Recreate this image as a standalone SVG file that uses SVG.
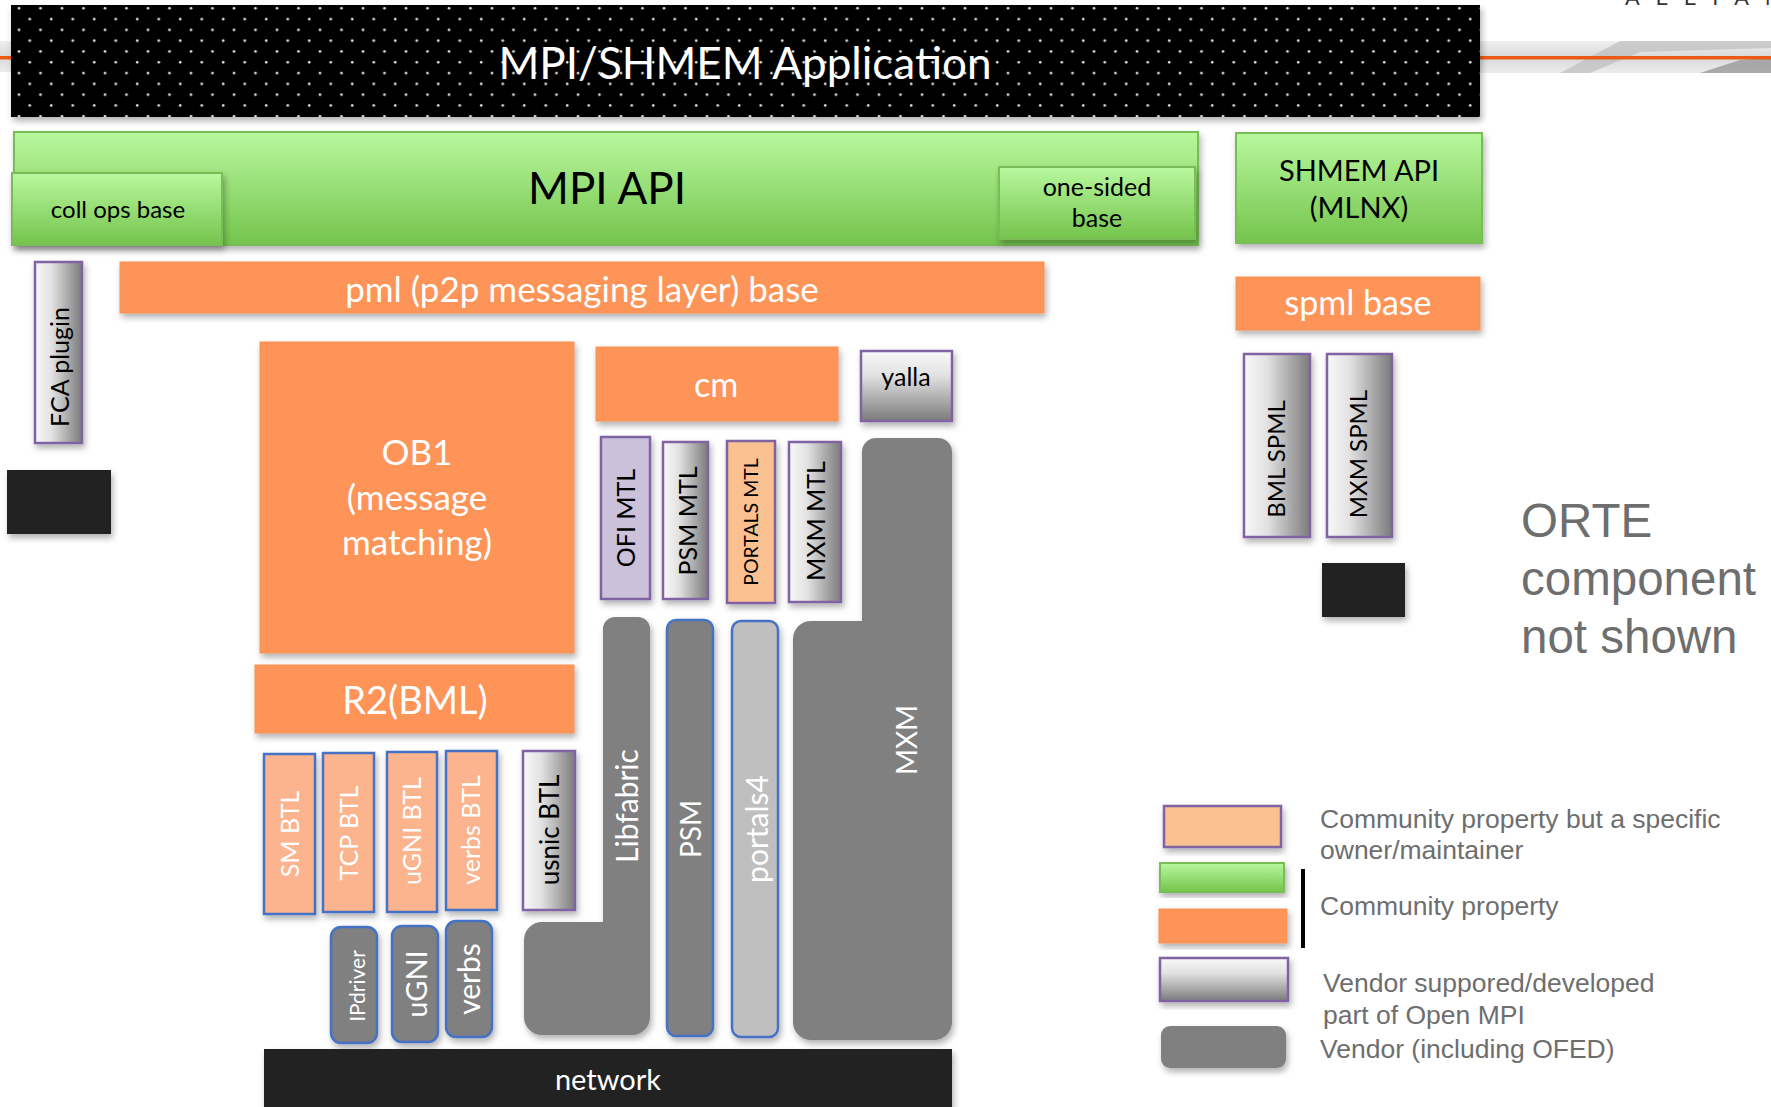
<svg xmlns="http://www.w3.org/2000/svg" width="1771" height="1107" viewBox="0 0 1771 1107">
<defs>
  <pattern id="dots" x="11" y="5" width="21.5" height="21.6" patternUnits="userSpaceOnUse">
    <circle cx="8" cy="3.3" r="1.3" fill="#e6e6e6"/>
    <circle cx="18.75" cy="14.1" r="1.3" fill="#e6e6e6"/>
  </pattern>
  <linearGradient id="green" x1="0" y1="0" x2="0" y2="1">
    <stop offset="0" stop-color="#b8f89e"/>
    <stop offset="1" stop-color="#74c44c"/>
  </linearGradient>
  <linearGradient id="vendH" x1="0" y1="0" x2="1" y2="0">
    <stop offset="0" stop-color="#f8f8f8"/>
    <stop offset="0.35" stop-color="#e2e2e2"/>
    <stop offset="1" stop-color="#7b7b7b"/>
  </linearGradient>
  <linearGradient id="vendV" x1="0" y1="0" x2="0" y2="1">
    <stop offset="0" stop-color="#f8f8f8"/>
    <stop offset="0.35" stop-color="#e2e2e2"/>
    <stop offset="1" stop-color="#7b7b7b"/>
  </linearGradient>
  <linearGradient id="swoosh" x1="0" y1="0" x2="0" y2="1">
    <stop offset="0" stop-color="#f0f0f0"/>
    <stop offset="0.5" stop-color="#d9d9d9"/>
    <stop offset="1" stop-color="#ececec"/>
  </linearGradient>
  <filter id="sh" x="-20%" y="-20%" width="140%" height="140%">
    <feDropShadow dx="2" dy="4" stdDeviation="3" flood-color="#000" flood-opacity="0.3"/>
  </filter>
  <style>
    .c { font-family: Lato, "Open Sans", sans-serif; }
    .a { font-family: "Liberation Sans", Arial, sans-serif; fill: #6e6e6e; }
    .w { fill: #ffffff; }
    .k { fill: #000000; }
    .orange { fill: #fe9459; stroke: #f5914f; stroke-width: 1; }
    .green { fill: url(#green); stroke: #79bd57; stroke-width: 2; }
    .btl { fill: #fbb48e; stroke: #4472c4; stroke-width: 2.5; }
    .vend { fill: url(#vendH); stroke: #8064a2; stroke-width: 2.5; }
    .vendv { fill: url(#vendV); stroke: #8064a2; stroke-width: 2.5; }
    .gray { fill: #808080; }
    .grayb { fill: #808080; stroke: #4472c4; stroke-width: 2.5; }
    .lgray { fill: #bfbfbf; stroke: #4472c4; stroke-width: 2.5; }
    .blk { fill: #222222; }
  </style>
</defs>
<rect width="1771" height="1107" fill="#ffffff"/>

<!-- slide decoration -->
<g id="decoration">
  <rect x="0" y="41" width="12" height="31" fill="url(#swoosh)"/>
  <rect x="1480" y="41" width="291" height="32" fill="url(#swoosh)"/>
  <polygon points="1560,73 1620,41 1771,41 1771,48 1640,52 1590,73" fill="#bdbdbd" opacity="0.7"/>
  <polygon points="1700,73 1740,60 1771,58 1771,73" fill="#9a9a9a" opacity="0.8"/>
  <rect x="0" y="56" width="12" height="3.5" fill="#ee5a14"/>
  <rect x="1480" y="56" width="291" height="3.5" fill="#ee5a14"/>
  <text x="1625" y="5" font-family="Liberation Sans, Arial, sans-serif" font-size="22" letter-spacing="16" fill="#333333">ALLIAN</text>
</g>

<g id="app">
  <rect x="11" y="5" width="1469" height="112" fill="#000000" filter="url(#sh)"/>
  <rect x="11" y="5" width="1469" height="112" fill="url(#dots)"/>
  <text class="c w" x="745" y="79" font-size="44" text-anchor="middle">MPI/SHMEM Application</text>
</g>

<g id="mpi-api">
  <rect class="green" x="14" y="132" width="1184" height="113" filter="url(#sh)"/>
  <text class="c k" x="607" y="204" font-size="44" text-anchor="middle">MPI API</text>
</g>
<g id="coll-ops-base">
  <rect class="green" x="12" y="173" width="210" height="72" filter="url(#sh)"/>
  <text class="c k" x="118" y="218" font-size="24" text-anchor="middle">coll ops base</text>
</g>
<g id="one-sided-base">
  <rect class="green" x="999" y="167" width="196" height="72" filter="url(#sh)"/>
  <text class="c k" x="1097" y="196" font-size="25" text-anchor="middle">one-sided</text>
  <text class="c k" x="1097" y="227" font-size="25" text-anchor="middle">base</text>
</g>
<g id="shmem-api">
  <rect class="green" x="1236" y="133" width="246" height="110" filter="url(#sh)"/>
  <text class="c k" x="1359" y="181" font-size="29" text-anchor="middle">SHMEM API</text>
  <text class="c k" x="1359" y="218" font-size="29" text-anchor="middle">(MLNX)</text>
</g>

<g id="pml-base">
  <rect class="orange" x="120" y="262" width="924" height="51" filter="url(#sh)"/>
  <text class="c w" x="582" y="302" font-size="35" text-anchor="middle">pml (p2p messaging layer) base</text>
</g>
<g id="spml-base">
  <rect class="orange" x="1236" y="277" width="244" height="53" filter="url(#sh)"/>
  <text class="c w" x="1358" y="315" font-size="34" text-anchor="middle">spml base</text>
</g>

<g id="fca-plugin">
  <rect class="vend" x="35" y="262" width="47" height="181" filter="url(#sh)"/>
  <text class="c k" transform="translate(60,367) rotate(-90)" dy="0.35em" font-size="25" text-anchor="middle">FCA plugin</text>
</g>
<g id="black-left">
  <rect class="blk" x="7" y="470" width="104" height="64" filter="url(#sh)"/>
</g>

<g id="ob1">
  <rect class="orange" x="260" y="342" width="314" height="311" filter="url(#sh)"/>
  <text class="c w" x="417" y="465" font-size="35" text-anchor="middle">OB1</text>
  <text class="c w" x="417" y="510" font-size="35" text-anchor="middle">(message</text>
  <text class="c w" x="417" y="555" font-size="35" text-anchor="middle">matching)</text>
</g>
<g id="r2-bml">
  <rect class="orange" x="255" y="665" width="319" height="68" filter="url(#sh)"/>
  <text class="c w" x="415" y="714" font-size="38" text-anchor="middle">R2(BML)</text>
</g>

<g id="cm">
  <rect class="orange" x="596" y="347" width="242" height="74" filter="url(#sh)"/>
  <text class="c w" x="716" y="397" font-size="34" text-anchor="middle">cm</text>
</g>
<g id="yalla">
  <rect class="vendv" x="861" y="351" width="91" height="70" filter="url(#sh)"/>
  <text class="c k" x="906" y="386" font-size="25" text-anchor="middle">yalla</text>
</g>

<g id="ofi-mtl">
  <rect x="601" y="437" width="49" height="162" fill="#ccc1da" stroke="#8064a2" stroke-width="2.5" filter="url(#sh)"/>
  <text class="c k" transform="translate(626,518) rotate(-90)" dy="0.35em" font-size="25" text-anchor="middle">OFI MTL</text>
</g>
<g id="psm-mtl">
  <rect class="vend" x="663" y="442" width="45" height="157" filter="url(#sh)"/>
  <text class="c k" transform="translate(688,521) rotate(-90)" dy="0.35em" font-size="25" text-anchor="middle">PSM MTL</text>
</g>
<g id="portals-mtl">
  <rect x="727" y="441" width="48" height="162" fill="#fac090" stroke="#8064a2" stroke-width="2.5" filter="url(#sh)"/>
  <text class="c k" transform="translate(751,522) rotate(-90)" dy="0.35em" font-size="19.5" text-anchor="middle">PORTALS MTL</text>
</g>
<g id="mxm-mtl">
  <rect class="vend" x="789" y="442" width="52" height="160" filter="url(#sh)"/>
  <text class="c k" transform="translate(816,521) rotate(-90)" dy="0.35em" font-size="25" text-anchor="middle">MXM MTL</text>
</g>

<g id="libfabric">
  <path class="gray" filter="url(#sh)" d="M615 617 H638 A12 12 0 0 1 650 629 V1017 A18 18 0 0 1 632 1035 H542 A18 18 0 0 1 524 1017 V940 A18 18 0 0 1 542 922 H603 V629 A12 12 0 0 1 615 617 Z"/>
  <text class="c w" transform="translate(627,806) rotate(-90)" dy="0.35em" font-size="30" text-anchor="middle">Libfabric</text>
</g>
<g id="psm">
  <rect class="grayb" x="667" y="620" width="46" height="416" rx="9" filter="url(#sh)"/>
  <text class="c w" transform="translate(691,829) rotate(-90)" dy="0.35em" font-size="28" text-anchor="middle">PSM</text>
</g>
<g id="portals4">
  <rect class="lgray" x="732" y="621" width="46" height="416" rx="9" filter="url(#sh)"/>
  <text class="c w" transform="translate(757,829) rotate(-90)" dy="0.35em" font-size="30" text-anchor="middle">portals4</text>
</g>
<g id="mxm">
  <path class="gray" filter="url(#sh)" d="M876 438 H938 A14 14 0 0 1 952 452 V1022 A18 18 0 0 1 934 1040 H811 A18 18 0 0 1 793 1022 V639 A18 18 0 0 1 811 621 H862 V452 A14 14 0 0 1 876 438 Z"/>
  <text class="c w" transform="translate(907,740) rotate(-90)" dy="0.35em" font-size="28" text-anchor="middle">MXM</text>
</g>

<g id="sm-btl">
  <rect class="btl" x="264" y="754" width="51" height="160" filter="url(#sh)"/>
  <text class="c w" transform="translate(290,834) rotate(-90)" dy="0.35em" font-size="25" text-anchor="middle">SM BTL</text>
</g>
<g id="tcp-btl">
  <rect class="btl" x="323" y="753" width="51" height="159" filter="url(#sh)"/>
  <text class="c w" transform="translate(349,833) rotate(-90)" dy="0.35em" font-size="25" text-anchor="middle">TCP BTL</text>
</g>
<g id="ugni-btl">
  <rect class="btl" x="387" y="752" width="50" height="160" filter="url(#sh)"/>
  <text class="c w" transform="translate(412,831) rotate(-90)" dy="0.35em" font-size="25" text-anchor="middle">uGNI BTL</text>
</g>
<g id="verbs-btl">
  <rect class="btl" x="446" y="751" width="51" height="159" filter="url(#sh)"/>
  <text class="c w" transform="translate(471.5,830) rotate(-90)" dy="0.35em" font-size="25" text-anchor="middle">verbs BTL</text>
</g>
<g id="usnic-btl">
  <rect class="vend" x="523" y="751" width="52" height="159" filter="url(#sh)"/>
  <text class="c k" transform="translate(550,830) rotate(-90)" dy="0.35em" font-size="26" text-anchor="middle">usnic BTL</text>
</g>

<g id="ipdriver">
  <rect class="grayb" x="331" y="927" width="46" height="116" rx="10" filter="url(#sh)"/>
  <text class="c w" transform="translate(358,986) rotate(-90)" dy="0.35em" font-size="21" text-anchor="middle">IPdriver</text>
</g>
<g id="ugni">
  <rect class="grayb" x="392" y="926" width="46" height="116" rx="10" filter="url(#sh)"/>
  <text class="c w" transform="translate(417,984) rotate(-90)" dy="0.35em" font-size="29" text-anchor="middle">uGNI</text>
</g>
<g id="verbs">
  <rect class="grayb" x="446" y="921" width="46" height="116" rx="10" filter="url(#sh)"/>
  <text class="c w" transform="translate(469,979) rotate(-90)" dy="0.35em" font-size="30" text-anchor="middle">verbs</text>
</g>

<g id="network">
  <rect class="blk" x="264" y="1049" width="688" height="70" filter="url(#sh)"/>
  <text class="c w" x="608" y="1090" font-size="29" text-anchor="middle">network</text>
</g>

<g id="bml-spml">
  <rect class="vend" x="1244" y="354" width="66" height="183" filter="url(#sh)"/>
  <text class="c k" transform="translate(1277,459) rotate(-90)" dy="0.35em" font-size="24" text-anchor="middle">BML SPML</text>
</g>
<g id="mxm-spml">
  <rect class="vend" x="1327" y="354" width="65" height="183" filter="url(#sh)"/>
  <text class="c k" transform="translate(1359,454) rotate(-90)" dy="0.35em" font-size="24" text-anchor="middle">MXM SPML</text>
</g>
<g id="black-right">
  <rect class="blk" x="1322" y="563" width="83" height="54" filter="url(#sh)"/>
</g>

<g id="orte-note">
  <text class="a" x="1521" y="537" font-size="47.5">ORTE</text>
  <text class="a" x="1521" y="595" font-size="47.5">component</text>
  <text class="a" x="1521" y="653" font-size="47.5">not shown</text>
</g>

<g id="legend">
  <rect x="1164" y="806" width="117" height="41" fill="#fac090" stroke="#8064a2" stroke-width="2.5" filter="url(#sh)"/>
  <rect class="green" x="1160" y="863" width="124" height="29" filter="url(#sh)"/>
  <rect class="orange" x="1159" y="909" width="128" height="34" filter="url(#sh)"/>
  <rect class="vendv" x="1160" y="958" width="128" height="43" filter="url(#sh)"/>
  <rect class="gray" x="1161" y="1026" width="125" height="42" rx="9" filter="url(#sh)"/>
  <rect x="1301" y="869" width="4" height="79" fill="#000000"/>
  <text class="a" x="1320" y="828" font-size="26.5">Community property but a specific</text>
  <text class="a" x="1320" y="859" font-size="26.5">owner/maintainer</text>
  <text class="a" x="1320" y="915" font-size="26.5">Community property</text>
  <text class="a" x="1323" y="992" font-size="26.5">Vendor suppored/developed</text>
  <text class="a" x="1323" y="1024" font-size="26.5">part of Open MPI</text>
  <text class="a" x="1320" y="1058" font-size="26.5">Vendor (including OFED)</text>
</g>

<g id="connectors"></g>
</svg>
